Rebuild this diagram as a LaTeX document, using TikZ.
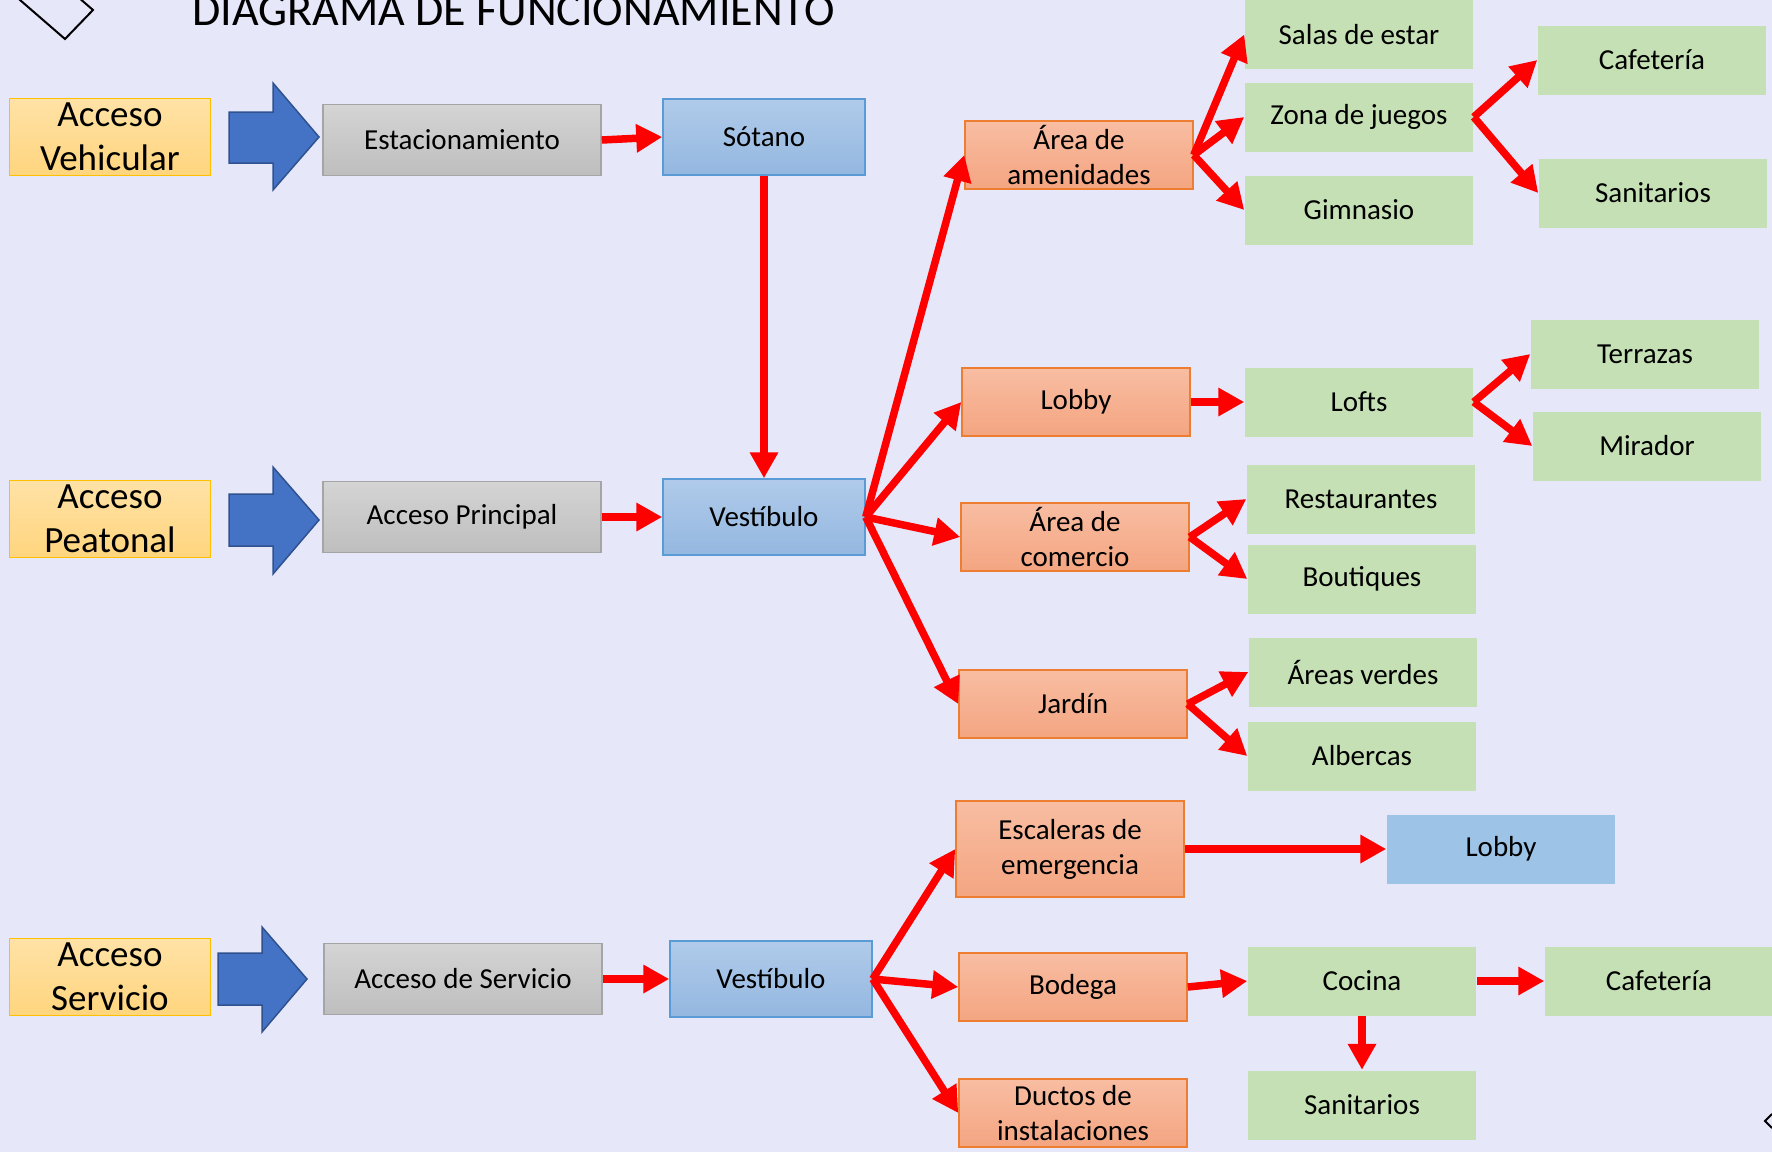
\documentclass[tikz,border=0pt]{standalone}
\usepackage{fontspec}
\setmainfont{Carlito}
\usetikzlibrary{arrows.meta}
\definecolor{bgc}{HTML}{E7E7FA}
\definecolor{yelA}{HTML}{FFE2A6}
\definecolor{yelB}{HTML}{FFD57E}
\definecolor{yelD}{HTML}{FFC000}
\definecolor{grA}{HTML}{D4D4D4}
\definecolor{grB}{HTML}{BEBEBE}
\definecolor{grD}{HTML}{A5A5A5}
\definecolor{blA}{HTML}{B0CBEA}
\definecolor{blB}{HTML}{94B7E0}
\definecolor{blD}{HTML}{5B9BD5}
\definecolor{orA}{HTML}{F8BDA2}
\definecolor{orB}{HTML}{F4A581}
\definecolor{orD}{HTML}{ED7D31}
\definecolor{grnF}{HTML}{C5E0B4}
\definecolor{lbF}{HTML}{9DC3E6}
\definecolor{arrF}{HTML}{4472C4}
\definecolor{arrD}{HTML}{2F528F}
\begin{document}
\begin{tikzpicture}[x=1pt,y=-1pt,
  box/.style={rectangle, inner sep=0pt, align=center, font=\fontsize{29}{35}\selectfont, line width=1.5pt},
  yelbox/.style={box, top color=yelA, bottom color=yelB, draw=yelD, minimum width=201pt, minimum height=77pt, font=\fontsize{37}{44}\selectfont},
  graybox/.style={box, top color=grA, bottom color=grB, draw=grD, minimum width=278pt, minimum height=71pt},
  bluebox/.style={box, top color=blA, bottom color=blB, draw=blD, minimum width=202pt, minimum height=76pt},
  orbox/.style={box, top color=orA, bottom color=orB, draw=orD, minimum width=228pt, minimum height=68pt},
  grnbox/.style={box, fill=grnF, minimum width=228pt, minimum height=69pt},
  lbbox/.style={box, fill=lbF, minimum width=228pt, minimum height=69pt},
  rarr/.style={draw=red, line width=7.5pt, -{Triangle[length=26pt,width=27pt]}},
  bigarrow/.style={fill=arrF, draw=arrD, line width=1.5pt, line join=miter}
]
\useasboundingbox (0,0) rectangle (1772,1152);
\fill[bgc] (0,0) rectangle (1772,1152);

% decorations
\begin{scope}
\clip (0,0) rectangle (1772,1152);
\draw[line width=2pt] (5,-13) -- (65,39) -- (93,10) -- (33,-42) -- cycle;
\draw[line width=2pt] (1772,1114) -- (1765,1121) -- (1772,1128);
\end{scope}

\node[anchor=base west, inner sep=0pt, font=\fontsize{46}{50}\selectfont] (title) at (192,25) {DIAGRAMA DE FUNCIONAMIENTO};

% left column
\node[yelbox] (av) at (110,137) {Acceso\\Vehicular};
\node[yelbox] (ap) at (110,519) {Acceso\\Peatonal};
\node[yelbox] (as) at (110,977) {Acceso\\Servicio};

% big arrows
\draw[bigarrow] (229,112) -- (273,112) -- (273,83) -- (319,137) -- (273,190) -- (273,163) -- (229,163) -- cycle;
\draw[bigarrow] (229,494) -- (273,494) -- (273,467) -- (319,520) -- (273,574) -- (273,546) -- (229,546) -- cycle;
\draw[bigarrow] (218,953) -- (262,953) -- (262,927) -- (307,979) -- (262,1032) -- (262,1005) -- (218,1005) -- cycle;

% gray
\node[graybox] (est) at (462,140) {Estacionamiento};
\node[graybox] (accp) at (462,517) {Acceso Principal};
\node[graybox] (accs) at (463,979) {Acceso de Servicio};

% blue
\node[bluebox] (sot) at (764,137) {Sótano};
\node[bluebox] (ves1) at (764,517) {Vestíbulo};
\node[bluebox] (ves2) at (771,979) {Vestíbulo};

% orange
\node[orbox] (amen) at (1079,155) {Área de\\amenidades};
\node[orbox] (lob) at (1076,402) {Lobby};
\node[orbox] (com) at (1075,537) {Área de\\comercio};
\node[orbox] (jar) at (1073,704) {Jardín};
\node[orbox, minimum height=96pt] (esc) at (1070,849) {Escaleras de\\emergencia};
\node[orbox] (bod) at (1073,987) {Bodega};
\node[orbox] (duc) at (1073,1113) {Ductos de\\instalaciones};

% green
\node[grnbox] (salas) at (1359,34.5) {Salas de estar};
\node[grnbox] (zona) at (1359,117) {Zona de juegos};
\node[grnbox] (gim) at (1359,210) {Gimnasio};
\node[grnbox] (caf1) at (1652,60) {Cafetería};
\node[grnbox] (san1) at (1653,193) {Sanitarios};
\node[grnbox] (lofts) at (1359,402) {Lofts};
\node[grnbox] (terr) at (1645,354) {Terrazas};
\node[grnbox] (mir) at (1647,446) {Mirador};
\node[grnbox] (rest) at (1361,499) {Restaurantes};
\node[grnbox] (bout) at (1362,579) {Boutiques};
\node[grnbox] (verdes) at (1363,672) {Áreas verdes};
\node[grnbox] (alb) at (1362,756) {Albercas};
\node[lbbox] (lobb) at (1501,849) {Lobby};
\node[grnbox] (coc) at (1362,981) {Cocina};
\node[grnbox] (caf2) at (1659,981) {Cafetería};
\node[grnbox] (san2) at (1362,1105) {Sanitarios};

% red arrows
\draw[rarr] (est.east) -- (sot.west);
\draw[rarr] (accp.east) -- (ves1.west);
\draw[rarr] (sot.south) -- (ves1.north);
\draw[rarr] (ves1.east) -- (amen.west);
\draw[rarr] (ves1.east) -- (lob.west);
\draw[rarr] (ves1.east) -- (com.west);
\draw[rarr] (ves1.east) -- (jar.west);
\draw[rarr] (amen.east) -- (salas.west);
\draw[rarr] (amen.east) -- (zona.west);
\draw[rarr] (amen.east) -- (gim.west);
\draw[rarr] (zona.east) -- (caf1.west);
\draw[rarr] (zona.east) -- (san1.west);
\draw[rarr] (lob.east) -- (lofts.west);
\draw[rarr] (lofts.east) -- (terr.west);
\draw[rarr] (lofts.east) -- (mir.west);
\draw[rarr] (com.east) -- (rest.west);
\draw[rarr] (com.east) -- (bout.west);
\draw[rarr] (jar.east) -- (verdes.west);
\draw[rarr] (jar.east) -- (alb.west);
\draw[rarr] (accs.east) -- (ves2.west);
\draw[rarr] (ves2.east) -- (esc.west);
\draw[rarr] (ves2.east) -- (bod.west);
\draw[rarr] (ves2.east) -- (duc.west);
\draw[rarr] (esc.east) -- (lobb.west);
\draw[rarr] (bod.east) -- (coc.west);
\draw[rarr] (coc.east) -- (caf2.west);
\draw[rarr] (coc.south) -- (san2.north);
\end{tikzpicture}
\end{document}
